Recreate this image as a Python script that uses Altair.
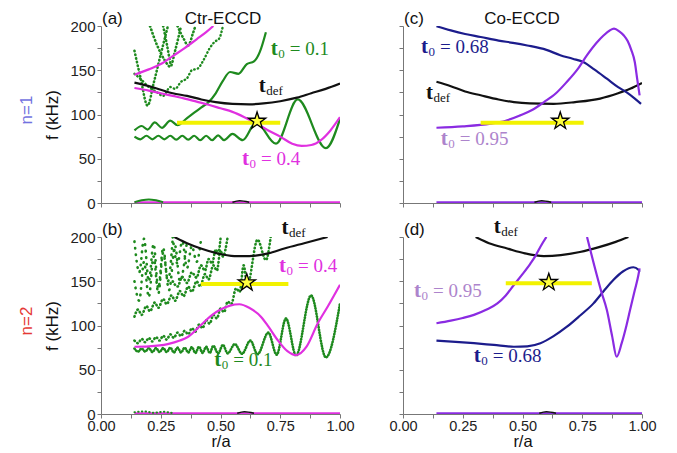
import altair as alt
import pandas as pd

# ---------------- data (r/a, f in kHz) ----------------
# panel (a)  Ctr-ECCD, n=1
A_DEF = [(0.14,136),(0.2,132),(0.25,128),(0.3,124),(0.36,121),(0.42,117),(0.48,114),(0.55,112),(0.62,111.5),(0.68,112.5),(0.75,115),(0.82,119),(0.88,124),(0.94,129),(1.0,135)]
A_M04 = [(0.14,130),(0.2,127),(0.25,124),(0.3,121),(0.35,118),(0.4,114.5),(0.45,111),(0.5,107),(0.55,103),(0.6,97),(0.65,90),(0.7,82),(0.75,75),(0.8,67),(0.84,64.5),(0.88,65.5),(0.92,71),(0.96,82),(1.0,97)]
A_M04_UP = [(0.14,145),(0.2,151),(0.25,157),(0.3,166),(0.35,175),(0.4,185),(0.44,193),(0.47,200)]
A_G1 = [(0.14,75),(0.165,72),(0.19,76),(0.215,72),(0.24,76),(0.265,72),(0.29,76),(0.315,71.5),(0.34,76),(0.365,71.5),(0.39,76),(0.415,71),(0.44,76),(0.465,71),(0.49,76.5),(0.515,71),(0.55,78),(0.593,71),(0.649,91),(0.732,67),(0.823,117),(0.941,62),(1.0,95)]
A_G2 = [(0.14,82),(0.17,87),(0.195,83),(0.225,91),(0.255,85),(0.29,93),(0.32,88),(0.36,96),(0.39,102),(0.42,108),(0.45,114),(0.48,124),(0.51,138),(0.54,148),(0.575,146),(0.61,157),(0.64,160),(0.665,171),(0.69,193)]
A_G3 = [(0.14,146),(0.17,139),(0.2,131),(0.23,126),(0.26,121),(0.29,131),(0.31,129),(0.335,137),(0.36,141),(0.38,150),(0.405,152),(0.43,162),(0.455,175),(0.475,182),(0.495,186),(0.51,200)]
A_V1 = [(0.14,172),(0.165,142),(0.195,110),(0.22,135),(0.25,168),(0.28,200)]
A_V2 = [(0.205,200),(0.235,178),(0.265,162),(0.29,154),(0.31,172),(0.335,200)]
A_V3 = [(0.26,200),(0.275,180),(0.29,158)]
A_V4 = [(0.32,200),(0.345,186),(0.365,178),(0.385,192),(0.395,200)]
A_G0 = [(0.14,1),(0.17,3),(0.2,4),(0.23,3),(0.26,1)]
A_Y = [(0.318,90.7),(0.75,90.7)]
A_STAR = [(0.653,92.6)]

# panel (b)  Ctr-ECCD, n=2
B_DEF = [(0.307,200),(0.36,193),(0.418,187),(0.48,182),(0.558,178.5),(0.62,178.5),(0.7,181.5),(0.767,187),(0.85,193),(0.948,200)]
B_M04 = [(0.14,76),(0.2,76.5),(0.279,79),(0.33,83),(0.363,87),(0.418,100.5),(0.46,111),(0.5,118),(0.54,122.5),(0.579,124),(0.62,120),(0.669,110),(0.7,99),(0.739,83.6),(0.78,71),(0.816,66.5),(0.86,76),(0.907,102.5),(0.95,122),(1.0,146)]
B_G1 = [(0.14,74),(0.155,70.5),(0.17,74),(0.185,70.5),(0.2,74.5),(0.215,70),(0.23,74.5),(0.245,70),(0.26,74.5),(0.275,70),(0.29,75),(0.305,69.5),(0.32,75),(0.335,69.5),(0.35,75),(0.365,69.5),(0.38,75.5),(0.395,69),(0.41,76),(0.425,69),(0.44,76),(0.455,69),(0.47,77),(0.49,68.5),(0.51,78),(0.53,68.5),(0.56,79),(0.59,68),(0.625,83),(0.655,67.5),(0.7,92),(0.735,67),(0.774,108),(0.816,66),(0.879,134),(0.941,64),(1.0,125)]
B_G2 = [(0.14,83),(0.155,80),(0.17,85),(0.185,81),(0.2,86),(0.215,82),(0.23,87),(0.245,83),(0.26,88.5),(0.275,84),(0.29,90),(0.305,86),(0.32,92),(0.335,88),(0.35,94),(0.365,90),(0.38,97),(0.395,93),(0.41,101),(0.425,97),(0.44,106),(0.455,102),(0.47,112),(0.485,108),(0.5,119),(0.515,115),(0.53,127),(0.545,124),(0.565,142),(0.58,138),(0.597,168),(0.612,145),(0.655,197),(0.69,174),(0.71,200)]
B_G3 = [(0.14,110),(0.155,118),(0.17,112),(0.19,122),(0.205,116),(0.225,126),(0.24,120),(0.26,130),(0.275,124),(0.295,134),(0.31,128),(0.33,139),(0.345,133),(0.365,144),(0.38,138),(0.4,150),(0.415,144),(0.435,158),(0.45,152),(0.47,168),(0.485,162),(0.5,185),(0.51,178),(0.53,200)]
B_G4 = [(0.3,150),(0.32,144),(0.34,155),(0.36,148),(0.38,160),(0.4,154),(0.418,168),(0.435,162),(0.45,175),(0.465,170),(0.48,186),(0.49,181),(0.5,198)]
B_S1 = [(0.14,195),(0.16,160),(0.18,198),(0.2,150),(0.22,192),(0.24,142),(0.26,188),(0.28,150),(0.3,198)]
B_S2 = [(0.14,150),(0.16,128),(0.18,172),(0.2,132),(0.22,178),(0.24,136),(0.26,182),(0.285,140),(0.31,190),(0.33,150),(0.36,196)]
B_S3 = [(0.3,200),(0.32,170),(0.34,195),(0.36,165),(0.38,190),(0.4,172),(0.42,200)]
B_G0 = [(0.14,2),(0.18,3),(0.22,1.5),(0.26,2.5),(0.3,1)]
B_Y = [(0.418,147),(0.784,147)]
B_STAR = [(0.61,148.4)]

# panel (c)  Co-ECCD, n=1
C_DEF = [(0.14,137),(0.2,132),(0.26,126),(0.325,121.7),(0.4,117),(0.464,114),(0.53,112.5),(0.63,112),(0.72,114),(0.825,118),(0.9,124),(0.95,129),(1.0,135.6)]
C_N068 = [(0.14,199.7),(0.2,195),(0.26,191),(0.325,187.6),(0.4,183.5),(0.46,181),(0.52,178),(0.6,173),(0.658,167),(0.71,163),(0.756,159),(0.8,151),(0.853,140.5),(0.9,131),(0.936,125),(0.97,118),(0.996,112)]
C_P095 = [(0.14,85),(0.25,86.5),(0.367,89.6),(0.43,93),(0.49,99),(0.54,105),(0.59,114),(0.64,124),(0.686,137),(0.73,151),(0.77,167),(0.81,181),(0.84,189.5),(0.865,195),(0.883,197),(0.905,194),(0.925,189),(0.94,183),(0.955,173),(0.97,159),(0.98,140),(0.99,121.7)]
C_Y = [(0.325,90.7),(0.756,90.7)]
C_STAR = [(0.658,92.6)]

# panel (d)  Co-ECCD, n=2
D_DEF = [(0.304,200),(0.36,193),(0.436,187),(0.51,181.5),(0.589,178.5),(0.66,179.5),(0.74,183),(0.82,188.5),(0.89,194.5),(0.943,200)]
D_P095A = [(0.14,102.5),(0.2,105.5),(0.25,108.5),(0.297,112),(0.35,118),(0.395,125),(0.43,134),(0.464,145.8),(0.5,158),(0.533,170),(0.555,179),(0.575,189),(0.6,200)]
D_P095B = [(0.77,200),(0.8,168),(0.83,138),(0.853,117.5),(0.875,88),(0.894,64.7),(0.915,80),(0.935,100),(0.95,117.5),(0.97,140),(0.985,157),(0.99,164.6)]
D_N068 = [(0.14,82.8),(0.22,81.5),(0.297,80),(0.38,78),(0.464,76),(0.52,76.5),(0.575,80),(0.63,88),(0.686,98.6),(0.74,111),(0.797,125),(0.84,139),(0.88,151.4),(0.92,161),(0.964,165.8),(0.985,163),(0.99,160.8)]
D_Y = [(0.43,147.7),(0.79,147.7)]
D_STAR = [(0.61,148.8)]

# near-zero traces
BASE = [(0.14,0.8),(1.0,0.8)]
K0_A = [(0.55,0.8),(0.58,2.5),(0.62,0.8)]
K0_B = [(0.57,0.8),(0.6,2.5),(0.64,0.8)]

# labels: (r, f, subscript, rest, colour key)
A_LABELS = [(0.71,167,"0","= 0.1","green"),(0.66,125,"def","","black"),(0.59,43,"0","= 0.4","magenta")]
B_LABELS = [(0.755,203,"def","","black"),(0.745,161,"0","= 0.4","magenta"),(0.474,54,"0","= 0.1","green")]
C_LABELS = [(0.075,169,"0","= 0.68","navy"),(0.096,117,"def","","black"),(0.158,66,"0","= 0.95","lav")]
D_LABELS = [(0.38,204,"def","","black"),(0.046,132.5,"0","= 0.95","lav"),(0.296,59,"0","= 0.68","navy")]

X_TICKS = [0, 0.125, 0.25, 0.375, 0.5, 0.625, 0.75, 0.875, 1.0]
Y_TICKS = [0, 25, 50, 75, 100, 125, 150, 175, 200]

# ---------------- styles ----------------
COL = {"green": "#1e8a1e", "magenta": "#e030e0", "navy": "#1c1c8c", "purple": "#8a2be2",
       "lav": "#ad84cc", "black": "#111111", "yellow": "#f2f200"}
STAR = "M0,-1L0.2245,-0.309L0.951,-0.309L0.363,0.118L0.588,0.809L0,0.382L-0.588,0.809L-0.363,0.118L-0.951,-0.309L-0.2245,-0.309Z"
SANS = "Liberation Sans"
SERIF = "Liberation Serif"
DOTS = [0.5, 3.2]
SPARSE = [0.5, 6]

XS = alt.Scale(domain=[0, 1], nice=False, zero=False)
YS = alt.Scale(domain=[0, 200], nice=False)

common_axis = dict(grid=False, domainColor="#777777", tickColor="#777777", tickSize=4,
                   labelFont=SANS, labelColor="#222222", titleFont=SANS, titleColor="#111111",
                   titleFontWeight="normal", labelOverlap=False)


def x_axis(bottom):
    if bottom:
        return alt.Axis(values=X_TICKS, labelExpr="(round(datum.value*1000) % 250 == 0) ? format(datum.value, '.2f') : ''",
                        labelFlush=False, labelFontSize=14.5, labelPadding=1, title="r/a",
                        titleFontSize=16.5, titlePadding=1, **common_axis)
    return alt.Axis(values=X_TICKS, labels=False, title="", **common_axis)


def y_axis(left):
    if left:
        return alt.Axis(values=Y_TICKS, labelExpr="(datum.value % 50 == 0) ? datum.label : ''",
                        labelFontSize=15, labelPadding=2, title="f (kHz)", titleFontSize=17,
                        titlePadding=8, **common_axis)
    return alt.Axis(values=Y_TICKS, labels=False, title="", **common_axis)


def frame(pts):
    df = pd.DataFrame(pts, columns=["r", "f"])
    df["i"] = range(len(df))
    return df


def panel(curves, yellow, star, labels, bottom, left, title, title_x, tag, row_label=None):
    xa, ya = x_axis(bottom), y_axis(left)
    X = alt.X("r:Q", scale=XS, axis=xa)
    Y = alt.Y("f:Q", scale=YS, axis=ya)
    layers = []
    for pts, color, width, dash in curves:
        kw = dict(color=COL[color], strokeWidth=width, interpolate="monotone", clip=True)
        if dash is not None:
            kw["strokeDash"] = dash
            kw["strokeCap"] = "round"
        layers.append(alt.Chart(frame(pts)).mark_line(**kw).encode(x=X, y=Y, order="i:Q"))
    layers.append(alt.Chart(frame(yellow)).mark_line(color=COL["yellow"], strokeWidth=4).encode(x=X, y=Y))
    layers.append(alt.Chart(frame(star)).mark_point(shape=STAR, size=330, filled=True, fill="#ffff40",
                                                     stroke="black", strokeWidth=1.3, opacity=1).encode(x=X, y=Y))
    ldf = pd.DataFrame(labels, columns=["r", "f", "sub", "rest", "c"])
    ldf["color"] = ldf["c"].map(COL)
    ldf["head"] = "t"
    C = alt.Color("color:N", scale=None)
    layers.append(alt.Chart(ldf).mark_text(font=SERIF, fontSize=21, fontWeight="bold", align="left",
                                           baseline="alphabetic").encode(x=X, y=Y, text="head:N", color=C))
    layers.append(alt.Chart(ldf).mark_text(font=SERIF, fontSize=13, align="left", baseline="alphabetic",
                                           dx=7.5, dy=3).encode(x=X, y=Y, text="sub:N", color=C))
    rest = ldf[ldf["rest"] != ""]
    layers.append(alt.Chart(rest).mark_text(font=SERIF, fontSize=19, align="left", baseline="alphabetic",
                                            dx=19).encode(x=X, y=Y, text="rest:N", color=C))
    if title:
        layers.append(alt.Chart(pd.DataFrame({"t": [title]})).mark_text(font=SANS, fontSize=17, color="#111111",
                                                                         baseline="middle").encode(
            text="t:N", x=alt.value(title_x), y=alt.value(-7)))
    layers.append(alt.Chart(pd.DataFrame({"t": [tag]})).mark_text(font=SANS, fontSize=17, color="#111111",
                                                                   align="left", baseline="middle").encode(
        text="t:N", x=alt.value(1), y=alt.value(-7)))
    if row_label is not None:
        txt, color = row_label
        layers.append(alt.Chart(pd.DataFrame({"t": [txt]})).mark_text(font=SANS, fontSize=17, color=color, angle=270,
                                                                       align="center", baseline="middle").encode(
            text="t:N", x=alt.value(-74), y=alt.value(84)))
    return alt.layer(*layers).properties(width=239, height=177)


pa = panel([
    (BASE, "magenta", 2, None), (A_G0, "green", 2, None), (K0_A, "black", 1.5, None),
    (A_V1, "green", 2.6, DOTS), (A_V2, "green", 2.6, DOTS), (A_V3, "green", 2.6, DOTS), (A_V4, "green", 2.6, DOTS),
    (A_G3, "green", 2.4, DOTS), (A_G2, "green", 2.2, None), (A_G1, "green", 2.2, None),
    (A_DEF, "black", 2.2, None), (A_M04, "magenta", 2.2, None), (A_M04_UP, "magenta", 2.2, None),
], A_Y, A_STAR, A_LABELS, False, True, "Ctr-ECCD", 122, "(a)", ("n=1", "#7272e0"))

pb = panel([
    (BASE, "magenta", 2, None), (B_G0, "green", 2, DOTS), (K0_B, "black", 1.5, None),
    (B_S1, "green", 2.6, SPARSE), (B_S2, "green", 2.6, SPARSE), (B_S3, "green", 2.6, SPARSE),
    (B_G3, "green", 2.6, DOTS), (B_G4, "green", 2.6, DOTS), (B_G2, "green", 2.6, DOTS), (B_G1, "green", 2.6, [0.5, 2.2]),
    (B_DEF, "black", 2.2, None), (B_M04, "magenta", 2.2, None),
], B_Y, B_STAR, B_LABELS, True, True, "", 0, "(b)", ("n=2", "#e53935"))

pc = panel([
    (BASE, "purple", 2, None), (K0_A, "black", 1.5, None),
    (C_DEF, "black", 2.2, None), (C_N068, "navy", 2.2, None), (C_P095, "purple", 2.2, None),
], C_Y, C_STAR, C_LABELS, False, False, "Co-ECCD", 119, "(c)")

pd_ = panel([
    (BASE, "purple", 2, None), (K0_B, "black", 1.5, None),
    (D_DEF, "black", 2.2, None), (D_N068, "navy", 2.2, None), (D_P095A, "purple", 2.2, None), (D_P095B, "purple", 2.2, None),
], D_Y, D_STAR, D_LABELS, True, False, "", 0, "(d)")

chart = alt.concat(pa, pc, pb, pd_, columns=2, spacing=alt.RowColnumber(row=34, column=63), bounds="flush").properties(
    padding={"left": 10, "top": 2, "right": 5, "bottom": 0}
).configure_view(strokeWidth=0)

chart.save("out.html", embed_options={"renderer": "svg", "actions": False})
